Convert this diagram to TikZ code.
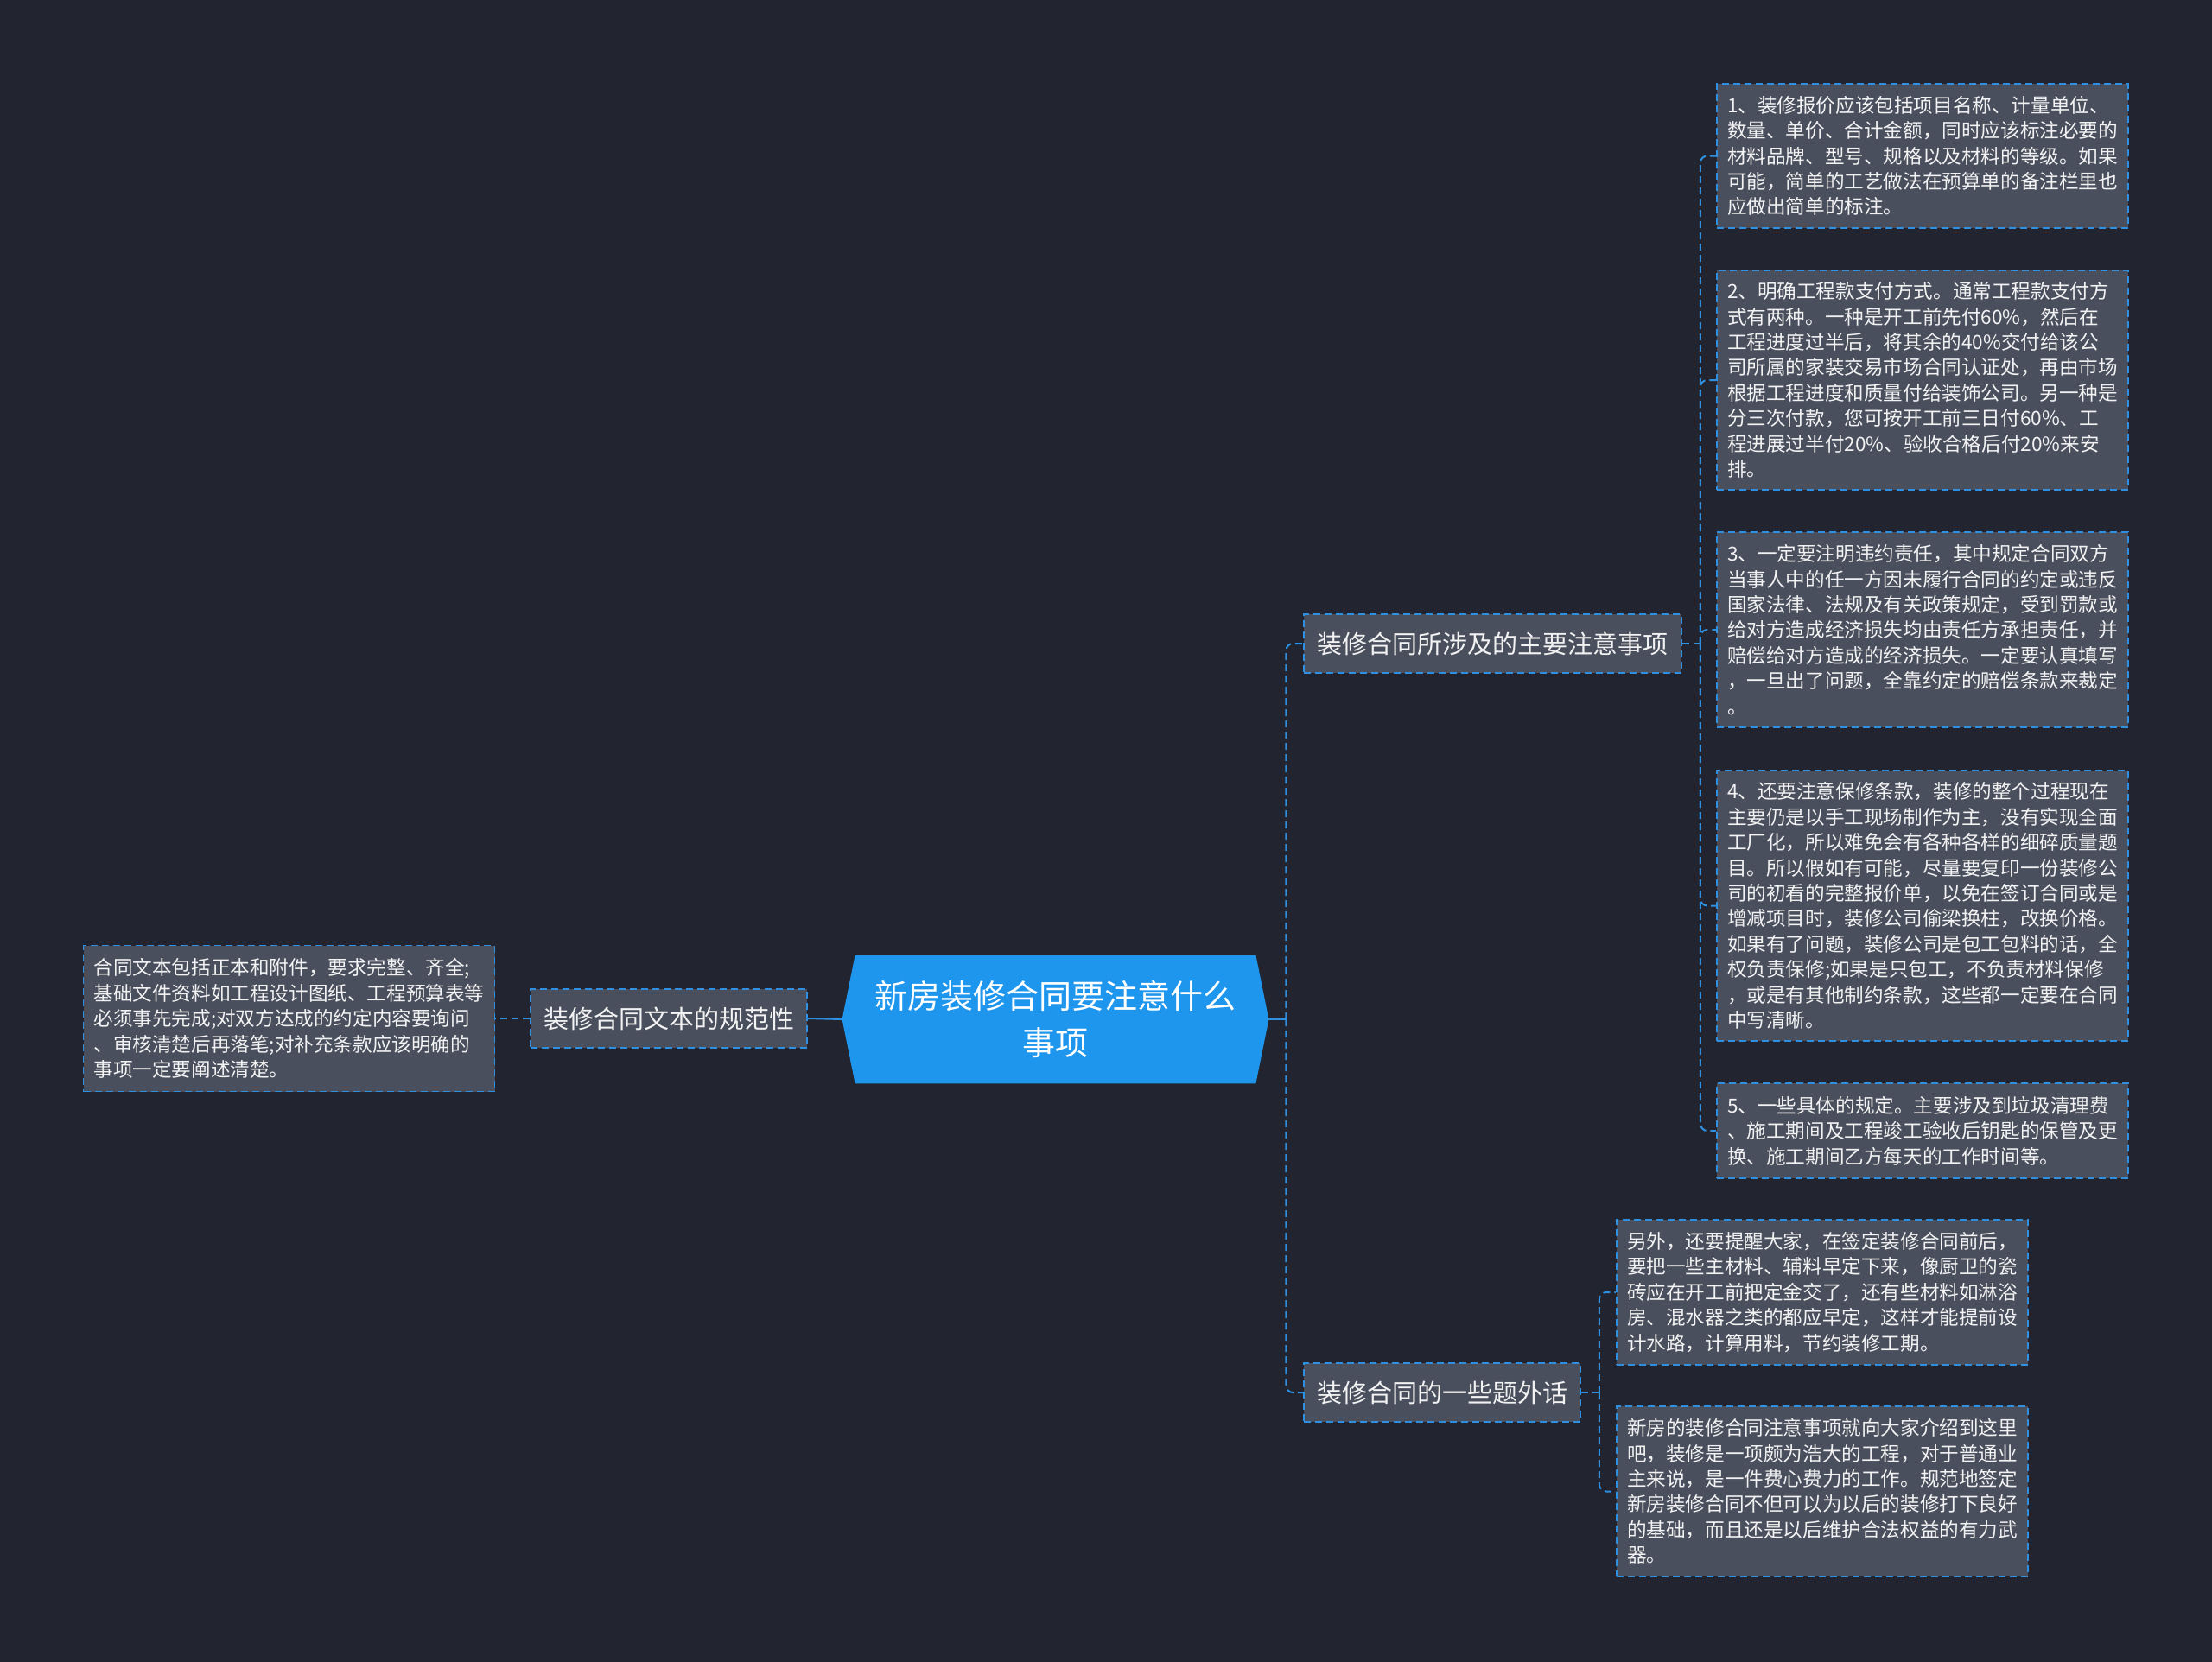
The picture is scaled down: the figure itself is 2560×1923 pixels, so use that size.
\documentclass[tikz,border=0pt]{standalone}
\usepackage{fontspec}
\setmainfont{Noto Sans CJK SC}
\usetikzlibrary{calc}
\definecolor{bgc}{HTML}{22252F}
\definecolor{boxfill}{HTML}{4A4F5E}
\definecolor{dashblue}{HTML}{2F8FE0}
\definecolor{rootfill}{HTML}{1E96EE}
\definecolor{txtc}{HTML}{F2F2F2}
\pgfdeclarelayer{bglayer}
\pgfsetlayers{bglayer,main}
\tikzset{
  leafbox/.style={rectangle, draw=dashblue, line width=0.9pt, dash pattern=on 4pt off 2.5pt,
    fill=boxfill, text=txtc, text width=226pt, inner xsep=6pt, inner ysep=0pt, align=left,
    font=\fontsize{11.3pt}{14.7pt}\selectfont},
  subbox/.style={rectangle, draw=dashblue, line width=0.9pt, dash pattern=on 4pt off 2.5pt,
    fill=boxfill, text=txtc, inner sep=0pt, minimum height=34pt,
    font=\fontsize{14.5pt}{17pt}\selectfont},
  rootbox/.style={rectangle, inner sep=0pt, minimum width=246.5pt, minimum height=74pt,
    text=white, align=center, font=\fontsize{19pt}{27pt}\selectfont},
  conn/.style={draw=dashblue, line width=1pt, dash pattern=on 4pt off 2.5pt, rounded corners=4pt},
  solidconn/.style={draw=dashblue, line width=1pt},
}
\begin{document}
\begin{tikzpicture}[x=0.5pt,y=-0.5pt]
\useasboundingbox (0,0) rectangle (2560,1923);
% root
\node[rootbox] (root) at (1221.5,1180) {新房装修合同要注意什么\\事项};
\begin{pgfonlayer}{bglayer}
  \fill[bgc] (-20,-20) rectangle (2580,1943);
  \fill[rootfill] ([xshift=7.5pt]root.north west) -- ([xshift=-7.5pt]root.north east) -- (root.east)
     -- ([xshift=-7.5pt]root.south east) -- ([xshift=7.5pt]root.south west) -- (root.west) -- cycle;
\end{pgfonlayer}
% left side
\node[subbox, minimum width=160pt] (lc) at (774,1179) {装修合同文本的规范性};
\node[leafbox, minimum height=84.5pt] (ll) at (334.5,1179) {合同文本包括正本和附件，要求完整、齐全;\\基础文件资料如工程设计图纸、工程预算表等\\必须事先完成;对双方达成的约定内容要询问\\、审核清楚后再落笔;对补充条款应该明确的\\事项一定要阐述清楚。};
% right branches
\node[subbox, minimum width=218.5pt] (n1) at (1727.5,745) {装修合同所涉及的主要注意事项};
\node[subbox, minimum width=160pt] (n2) at (1669,1612) {装修合同的一些题外话};
% leaves of branch 1
\node[leafbox, minimum height=83.5pt] (l1) at (2225,180.5) {1、装修报价应该包括项目名称、计量单位、\\数量、单价、合计金额，同时应该标注必要的\\材料品牌、型号、规格以及材料的等级。如果\\可能，简单的工艺做法在预算单的备注栏里也\\应做出简单的标注。};
\node[leafbox, minimum height=127pt] (l2) at (2225,440) {2、明确工程款支付方式。通常工程款支付方\\式有两种。一种是开工前先付60\%，然后在\\工程进度过半后，将其余的40\%交付给该公\\司所属的家装交易市场合同认证处，再由市场\\根据工程进度和质量付给装饰公司。另一种是\\分三次付款，您可按开工前三日付60\%、工\\程进展过半付20\%、验收合格后付20\%来安\\排。};
\node[leafbox, minimum height=113pt] (l3) at (2225,729) {3、一定要注明违约责任，其中规定合同双方\\当事人中的任一方因未履行合同的约定或违反\\国家法律、法规及有关政策规定，受到罚款或\\给对方造成经济损失均由责任方承担责任，并\\赔偿给对方造成的经济损失。一定要认真填写\\，一旦出了问题，全靠约定的赔偿条款来裁定\\。};
\node[leafbox, minimum height=156.5pt] (l4) at (2225,1048.5) {4、还要注意保修条款，装修的整个过程现在\\主要仍是以手工现场制作为主，没有实现全面\\工厂化，所以难免会有各种各样的细碎质量题\\目。所以假如有可能，尽量要复印一份装修公\\司的初看的完整报价单，以免在签订合同或是\\增减项目时，装修公司偷梁换柱，改换价格。\\如果有了问题，装修公司是包工包料的话，全\\权负责保修;如果是只包工，不负责材料保修\\，或是有其他制约条款，这些都一定要在合同\\中写清晰。};
\node[leafbox, minimum height=55pt] (l5) at (2225,1309) {5、一些具体的规定。主要涉及到垃圾清理费\\、施工期间及工程竣工验收后钥匙的保管及更\\换、施工期间乙方每天的工作时间等。};
% leaves of branch 2
\node[leafbox, minimum height=84pt] (l6) at (2109,1496) {另外，还要提醒大家，在签定装修合同前后，\\要把一些主材料、辅料早定下来，像厨卫的瓷\\砖应在开工前把定金交了，还有些材料如淋浴\\房、混水器之类的都应早定，这样才能提前设\\计水路，计算用料，节约装修工期。};
\node[leafbox, minimum height=98.5pt] (l7) at (2109,1726.5) {新房的装修合同注意事项就向大家介绍到这里\\吧，装修是一项颇为浩大的工程，对于普通业\\主来说，是一件费心费力的工作。规范地签定\\新房装修合同不但可以为以后的装修打下良好\\的基础，而且还是以后维护合法权益的有力武\\器。};
% connectors
\coordinate (tr) at ([xshift=10pt]root.east);
\draw[solidconn] (root.east) -- (tr);
\draw[conn] (tr) |- (n1.west);
\draw[conn] (tr) |- (n2.west);
\draw[solidconn] (root.west) -- (lc.east);
\draw[conn] (lc.west) -- (ll.east);
\coordinate (b1) at ([xshift=10.5pt]n1.east);
\draw[conn] (n1.east) -- (b1);
\foreach \l in {l1,l2,l3,l4,l5} { \draw[conn] (b1) |- (\l.west); }
\coordinate (b2) at ([xshift=10.5pt]n2.east);
\draw[conn] (n2.east) -- (b2);
\foreach \l in {l6,l7} { \draw[conn] (b2) |- (\l.west); }
\end{tikzpicture}
\end{document}
